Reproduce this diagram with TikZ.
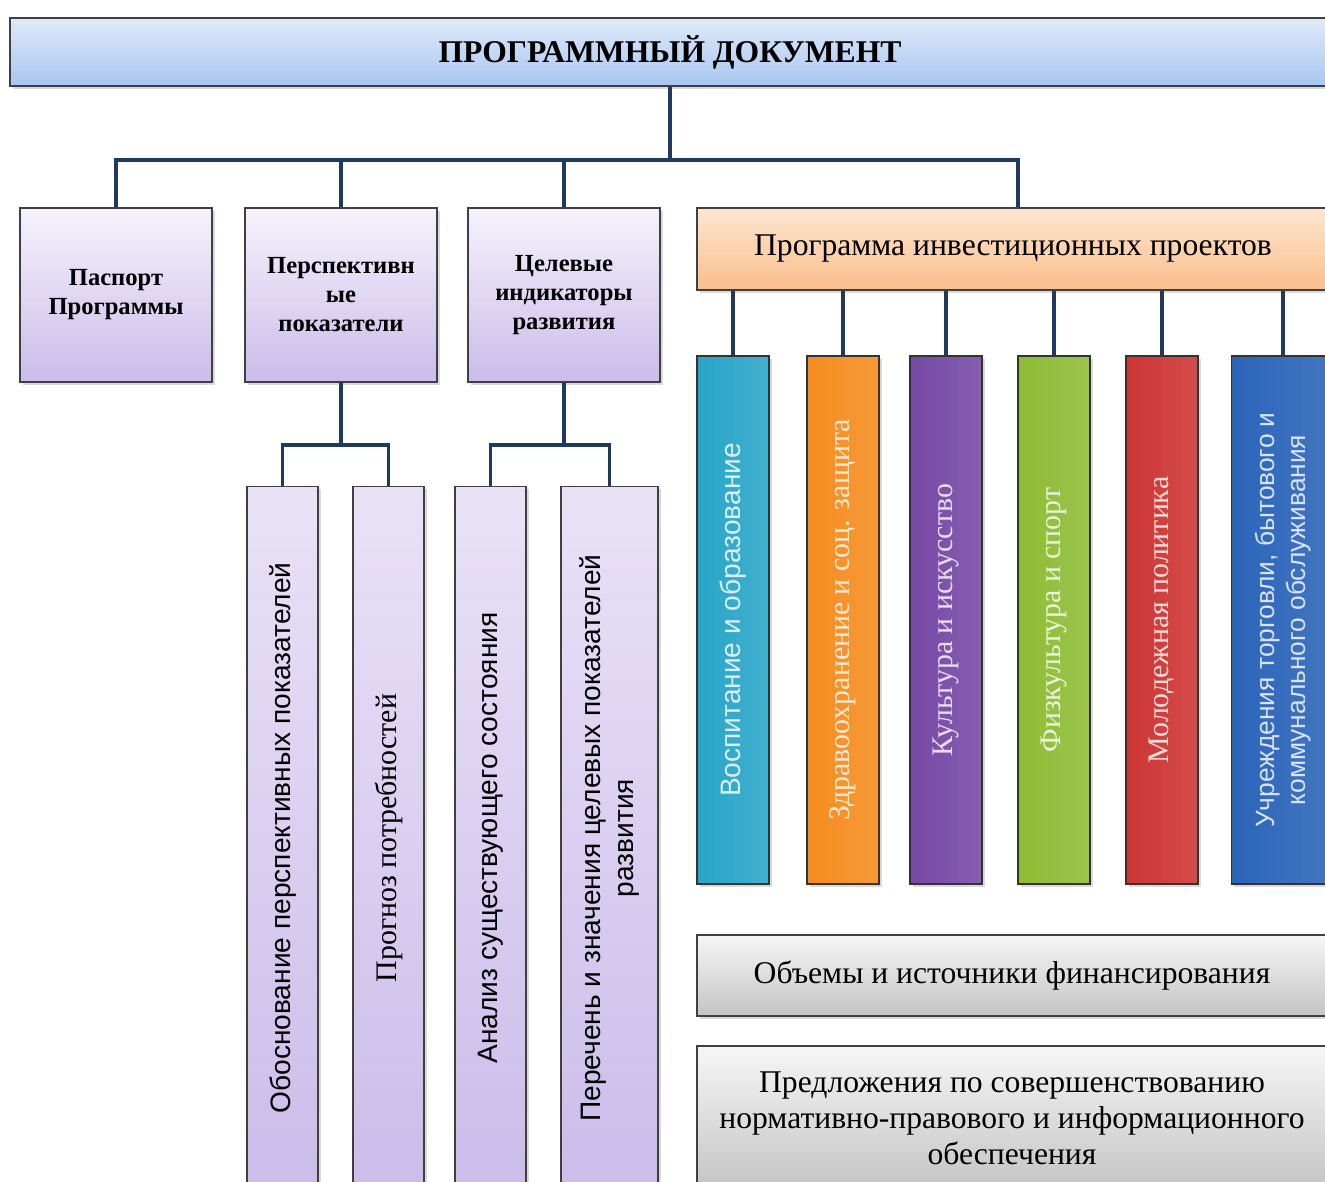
\documentclass[tikz,border=0pt]{standalone}
\usepackage{fontspec}
\setmainfont{Liberation Serif}
\setsansfont{Liberation Sans}
\usetikzlibrary{shadows}
\definecolor{linkblue}{RGB}{31,58,92}
\definecolor{docblue}{RGB}{168,198,240}
\definecolor{docbluetop}{RGB}{224,234,250}
\definecolor{lilac}{RGB}{203,188,234}
\definecolor{lilactop}{RGB}{246,242,252}
\definecolor{peach}{RGB}{250,190,140}
\definecolor{peachtop}{RGB}{254,230,208}
\definecolor{greyfin}{RGB}{196,196,196}
\definecolor{greyfintop}{RGB}{246,246,246}
\definecolor{colteal}{RGB}{40,165,200}
\definecolor{colorange}{RGB}{245,140,30}
\definecolor{colpurple}{RGB}{118,72,165}
\definecolor{colgreen}{RGB}{142,188,52}
\definecolor{colred}{RGB}{205,52,50}
\definecolor{colblue}{RGB}{42,100,185}

\begin{document}
\begin{tikzpicture}[x=0.02cm, y=-0.02cm,
    conn/.style={draw=linkblue, line width=2.2pt},
    box/.style={draw=black!75, line width=0.9pt, align=center, inner sep=2pt,
      drop shadow={shadow xshift=1.5pt, shadow yshift=-1.5pt, opacity=.3}},
    lilacbox/.style={box, top color=lilactop, bottom color=lilac, minimum width=3.84cm, minimum height=3.48cm, font=\fontsize{14}{16.5}\selectfont\bfseries},
    tallbox/.style={box, rotate=90, top color=lilactop!70!lilac, bottom color=lilac, minimum width=14.06cm, minimum height=1.42cm, font=\sffamily\fontsize{16}{19}\selectfont},
    colbox/.style={box, rotate=90, draw=black!80, left color=#1, right color=#1!88!white, text=#1!18!white, minimum width=10.56cm, minimum height=1.44cm, font=\fontsize{17}{19}\selectfont},
    greybox/.style={box, top color=greyfintop, bottom color=greyfin, minimum width=12.6cm, font=\fontsize{18}{20.5}\selectfont}]
    \useasboundingbox (0,0) rectangle (1325,1182);
    \clip (0,0) rectangle (1325,1182);

    % Title
    \node[box, top color=docbluetop, bottom color=docblue, minimum width=26.4cm, minimum height=1.36cm, font=\fontsize{18}{20}\selectfont\bfseries] (doc) at (670,52) {ПРОГРАММНЫЙ ДОКУМЕНТ};

    % First level
    \node[lilacbox] (pasp) at (116,295) {Паспорт\\Программы};
    \node[lilacbox] (persp) at (341,295) {Перспективн\\ые\\показатели};
    \node[lilacbox] (target) at (564,295) {Целевые\\индикаторы\\развития};
    \node[box, top color=peachtop, bottom color=peach, minimum width=12.64cm, minimum height=1.64cm, font=\fontsize{18}{20}\selectfont] (invest) at (1013,249) {Программа инвестиционных проектов};

    % Indicators
    \node[tallbox] (obosn) at (282.5,838) {Обоснование перспективных показателей};
    \node[tallbox, font=\fontsize{17}{19}\selectfont] (prognoz) at (388.5,838) {Прогноз потребностей};
    \node[tallbox] (analiz) at (490.5,838) {Анализ существующего состояния};
    \node[tallbox, minimum height=1.94cm] (perech) at (609.5,838) {Перечень и значения целевых показателей\\развития};

    % Investment fields
    \node[colbox=colteal, font=\sffamily\fontsize{16}{19}\selectfont] (vosp) at (733,620) {Воспитание и образование};
    \node[colbox=colorange] (zdrav) at (843,620) {Здравоохранение и соц. защита};
    \node[colbox=colpurple] (kult) at (946,620) {Культура и искусство};
    \node[colbox=colgreen] (sport) at (1054,620) {Физкультура и спорт};
    \node[colbox=colred] (molod) at (1162,620) {Молодежная политика};
    \node[colbox=colblue, minimum height=2.06cm, font=\sffamily\fontsize{15}{18}\selectfont] (torg) at (1283,620) {Учреждения торговли, бытового и\\коммунального обслуживания};

    % Financing and proposals
    \node[greybox, minimum height=1.62cm] (fin) at (1012,975.5) {Объемы и источники финансирования};
    \node[greybox, minimum height=2.88cm] (pred) at (1012,1118) {Предложения по совершенствованию\\нормативно-правового и информационного\\обеспечения};

    % Connectors
    \coordinate (busL) at (118,160);
    \coordinate (busR) at (1018,160);
    \draw[conn] (doc.south) -- (doc.south |- busL);
    \draw[conn] (pasp.north) |- (busR) -- (invest.north -| busR);
    \draw[conn] (persp.north) -- (persp.north |- busL);
    \draw[conn] (target.north) -- (target.north |- busL);
    \draw[conn] (persp.south) -- ++(0,62) coordinate (jp);
    \draw[conn] (obosn.east) |- (jp) -| (prognoz.east);
    \draw[conn] (target.south) -- ++(0,62) coordinate (jt);
    \draw[conn] (analiz.east) |- (jt) -| (perech.east);
    \foreach \c in {vosp,zdrav,kult,sport,molod,torg}
        \draw[conn] (invest.south -| \c.east) -- (\c.east);
\end{tikzpicture}
\end{document}
